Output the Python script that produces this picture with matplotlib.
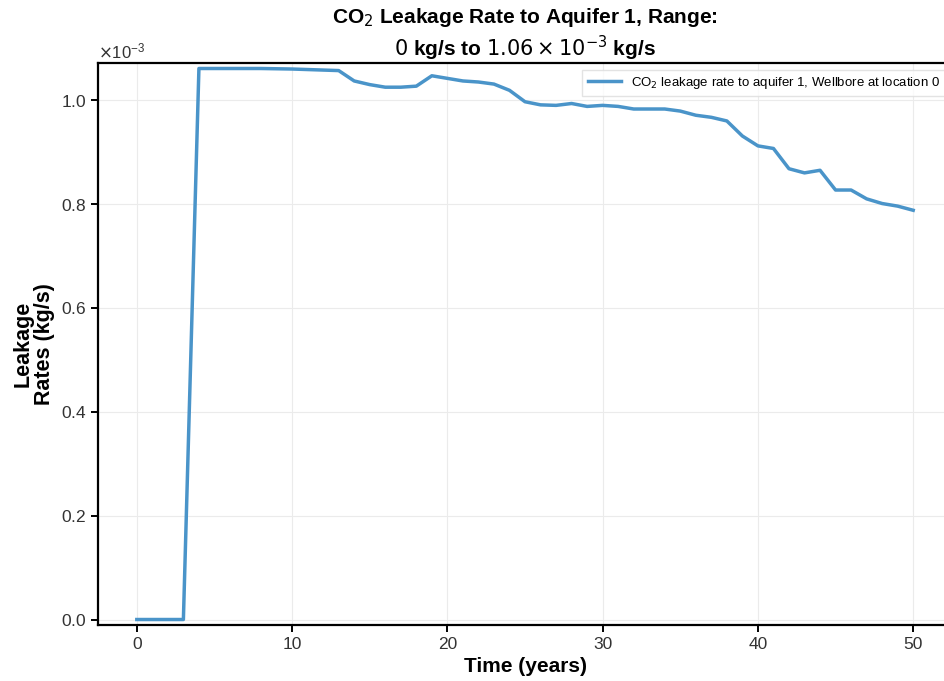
import numpy as np
import matplotlib.pyplot as plt

plt.rcParams['font.family'] = ['Liberation Sans', 'DejaVu Sans']
plt.rcParams['mathtext.fontset'] = 'dejavusans'

# leakage rate to aquifer 1 (kg/s), one value per year
years = np.arange(0, 51)
rates = np.array([
    0.0, 0.0, 0.0, 0.0, 1.061, 1.061, 1.061, 1.061, 1.061, 1.0605,
    1.060, 1.059, 1.058, 1.057, 1.037, 1.030, 1.025, 1.025, 1.027, 1.047,
    1.042, 1.037, 1.035, 1.031, 1.019, 0.997, 0.991, 0.990, 0.9936, 0.988,
    0.990, 0.988, 0.983, 0.983, 0.983, 0.979, 0.971, 0.967, 0.960, 0.931,
    0.912, 0.907, 0.868, 0.860, 0.865, 0.827, 0.827, 0.810, 0.801, 0.796,
    0.788]) * 1e-3

rmax = rates.max()

fig = plt.figure(figsize=(9.44, 6.81), dpi=100)
ax = fig.add_axes([0.1038, 0.0822, 0.9047, 0.8253])

ax.plot(years, rates, color='#4a94c9', lw=2.5,
        label='CO$_2$ leakage rate to aquifer 1, Wellbore at location 0')

ax.set_xlim(-2.5, 52.5)
ax.set_ylim(-0.01 * rmax, 1.01 * rmax)
ax.set_xticks([0, 10, 20, 30, 40, 50])
ax.ticklabel_format(axis='y', style='sci', scilimits=(0, 0), useMathText=True)
ax.yaxis.get_offset_text().set_fontsize(12)
ax.yaxis.get_offset_text().set_color('#333333')

ax.grid(True, color='#ebebeb', lw=0.8)
for s in ax.spines.values():
    s.set_linewidth(1.6)
ax.tick_params(labelsize=12.5, width=1.4, length=5, labelcolor='#333333')

ax.set_xlabel('Time (years)', fontsize=15, fontweight='bold')
ax.set_ylabel('Leakage\nRates (kg/s)', fontsize=15.5, fontweight='bold',
              linespacing=1.0, labelpad=4)
ax.set_title('CO$_2$ Leakage Rate to Aquifer 1, Range:\n'
             '$0$ kg/s to $1.06 \\times 10^{-3}$ kg/s',
             fontsize=15, fontweight='bold', pad=5)

ax.legend(loc='upper right', fontsize=9.5, frameon=True, fancybox=False,
          edgecolor='#dddddd', handlelength=2.5)

fig.savefig('out.png', dpi=100)
